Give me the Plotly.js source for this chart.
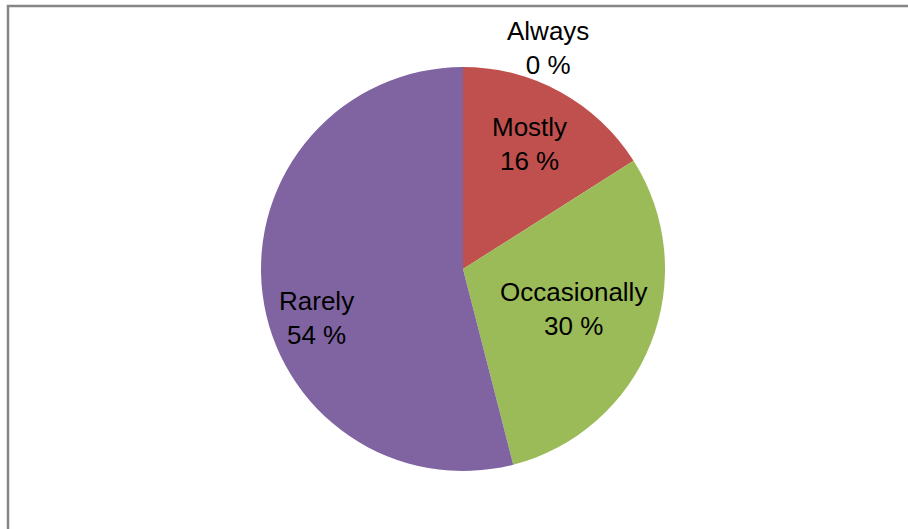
<!DOCTYPE html>
<html>
<head>
<meta charset="utf-8">
<script src="https://cdn.plot.ly/plotly-3.0.1.min.js"></script>
<style>html,body{margin:0;padding:0;background:#fff;}#chart{width:908px;height:529px;}</style>
</head>
<body>
<div id="chart"></div>
<script>
var labels = ["Always", "Mostly", "Occasionally", "Rarely"];
var values = [0, 16, 30, 54];
var colors = ["#4F81BD", "#C0504D", "#9BBB59", "#8064A2"];

var W = 908, H = 529;
function px(x) { return x / W; }
function py(y) { return 1 - y / H; }

// label anchor points (pixel positions of label centres)
var labelPos = [[548, 48.5], [529, 143.5], [573, 309], [316.5, 318]];

var annotations = labels.map(function (l, i) {
  return {
    xref: "paper", yref: "paper",
    x: px(labelPos[i][0]), y: py(labelPos[i][1]),
    xanchor: "center", yanchor: "middle",
    showarrow: false,
    text: l + "<br>" + values[i] + " %",
    font: {family: "Liberation Sans, Arial, sans-serif", size: 26, color: "#000"}
  };
});

var data = [{
  type: "pie",
  labels: labels,
  values: values,
  sort: false,
  direction: "clockwise",
  rotation: 0,
  textinfo: "none",
  hoverinfo: "none",
  marker: {colors: colors, line: {width: 0}},
  domain: {x: [px(261), px(665)], y: [py(471), py(67)]},
  showlegend: false
}];

var layout = {
  width: W, height: H,
  margin: {l: 0, r: 0, t: 0, b: 0},
  paper_bgcolor: "#ffffff",
  plot_bgcolor: "#ffffff",
  showlegend: false,
  annotations: annotations,
  shapes: [{
    type: "rect", xref: "paper", yref: "paper",
    x0: px(8), x1: 1.1, y0: -0.1, y1: py(6),
    line: {color: "#868686", width: 2.5},
    fillcolor: "rgba(0,0,0,0)"
  }]
};

Plotly.newPlot("chart", data, layout, {staticPlot: true});
</script>
</body>
</html>
